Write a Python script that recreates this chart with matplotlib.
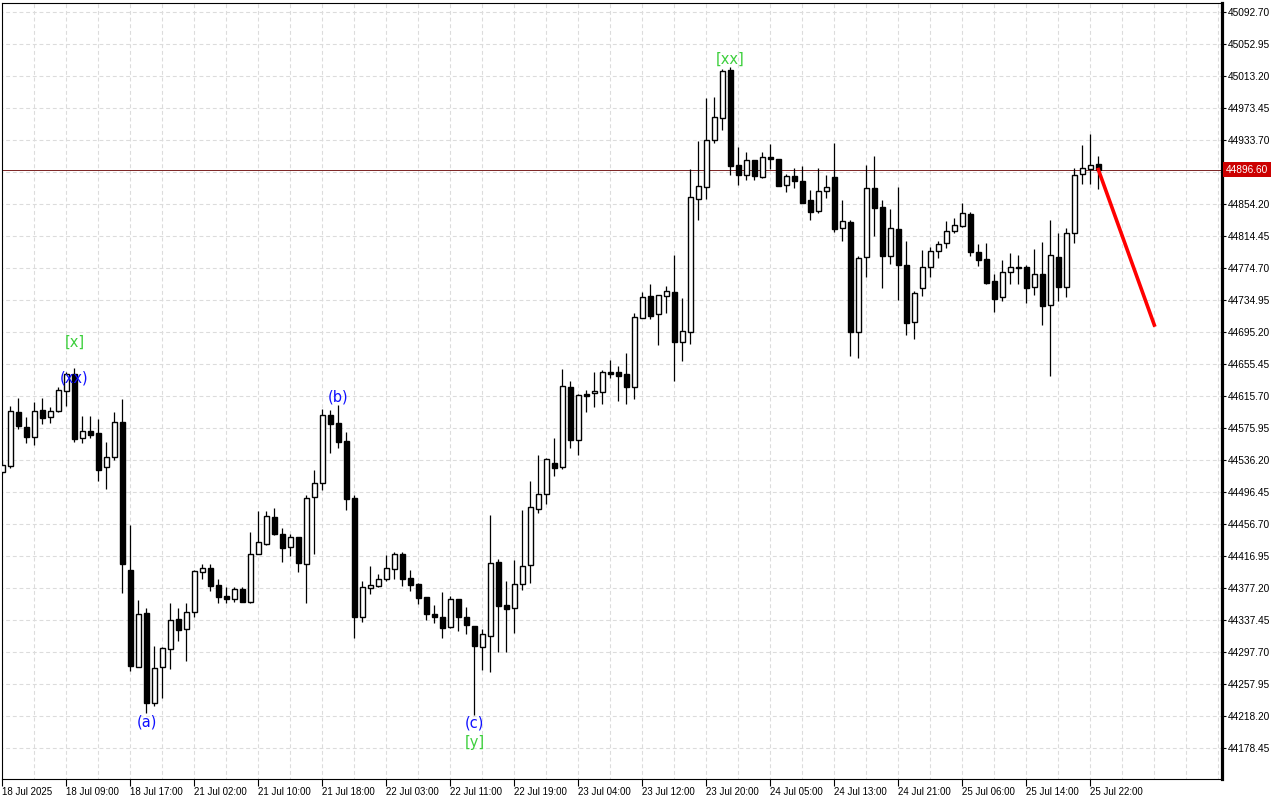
import numpy as np
import matplotlib
matplotlib.use('Agg')
import matplotlib.pyplot as plt
import matplotlib.transforms as mtransforms

plt.rcParams['font.family'] = ['Liberation Sans', 'DejaVu Sans']

# H1 candles, 18 Jul 2025 .. 25 Jul 2025
opens = [44520.9, 44528.7, 44595.1, 44576.4, 44564.8, 44597.9, 44588.9, 44596.3, 44621.2, 44642.3,
         44562.8, 44571.5, 44569.0, 44526.8, 44539.2, 44582.7, 44399.2, 44279.1, 44345.4, 44233.6,
         44278.3, 44300.7, 44337.9, 44325.5, 44346.6, 44396.3, 44401.3, 44380.2, 44366.9, 44362.8,
         44375.2, 44359.8, 44418.7, 44431.5, 44465.4, 44443.9, 44428.1, 44440.5, 44406.3, 44489.5,
         44506.9, 44591.7, 44581.8, 44559.4, 44488.6, 44340.4, 44376.4, 44379.9, 44387.6, 44400.1,
         44419.1, 44389.2, 44381.8, 44365.6, 44344.5, 44340.8, 44328.4, 44363.2, 44340.8, 44329.6,
         44303.9, 44317.6, 44409.1, 44355.7, 44351.4, 44381.4, 44405.0, 44475.3, 44493.2, 44531.7,
         44526.8, 44626.1, 44560.3, 44617.4, 44618.7, 44620.7, 44644.8, 44644.8, 44642.7, 44626.1,
         44711.8, 44739.5, 44716.8, 44739.2, 44744.5, 44682.8, 44695.2, 44860.4, 44874.6, 44933.0,
         44961.0, 45020.3, 44902.3, 44890.2, 44908.5, 44887.7, 44912.6, 44909.7, 44877.1, 44888.6,
         44882.0, 44858.4, 44845.1, 44869.4, 44887.4, 44823.6, 44831.1, 44694.5, 44787.6, 44873.3,
         44849.7, 44789.6, 44822.8, 44778.1, 44707.6, 44749.1, 44775.2, 44795.1, 44805.0, 44819.9,
         44826.9, 44841.4, 44794.2, 44785.5, 44758.2, 44737.9, 44769.0, 44775.6, 44775.6, 44751.1,
         44766.9, 44728.0, 44788.0, 44750.4, 44817.4, 44890.7, 44897.7, 44903.1]
highs = [44535.8, 44602.9, 44612.5, 44588.9, 44607.9, 44612.8, 44601.3, 44626.9, 44645.5, 44649.7,
         44590.5, 44590.5, 44586.8, 44558.2, 44595.4, 44611.6, 44455.1, 44361.9, 44352.0, 44304.8,
         44303.5, 44357.8, 44351.6, 44357.8, 44398.6, 44406.6, 44406.6, 44387.6, 44377.7, 44378.4,
         44378.1, 44446.4, 44472.5, 44472.5, 44475.8, 44451.0, 44443.5, 44440.5, 44492.3, 44523.4,
         44599.5, 44597.9, 44603.8, 44570.2, 44492.7, 44385.5, 44404.1, 44394.2, 44417.8, 44421.9,
         44421.9, 44399.2, 44383.0, 44365.6, 44355.7, 44371.9, 44367.3, 44363.2, 44353.2, 44329.6,
         44325.9, 44467.5, 44412.5, 44385.5, 44411.6, 44473.7, 44509.7, 44542.0, 44537.9, 44562.8,
         44648.9, 44633.6, 44617.4, 44622.8, 44645.1, 44647.6, 44660.0, 44652.6, 44668.7, 44718.8,
         44744.5, 44754.5, 44740.8, 44752.0, 44790.5, 44737.4, 44897.3, 44932.1, 44985.1, 44986.7,
         45021.5, 45023.6, 44925.0, 44918.0, 44908.5, 44918.0, 44928.4, 44909.7, 44890.7, 44898.2,
         44901.0, 44871.2, 44898.9, 44889.8, 44929.2, 44858.8, 44833.9, 44789.2, 44902.6, 44913.8,
         44858.8, 44847.6, 44874.9, 44807.9, 44745.8, 44796.7, 44800.0, 44807.9, 44832.7, 44836.1,
         44855.1, 44844.3, 44804.1, 44805.4, 44766.9, 44784.3, 44792.6, 44790.1, 44777.7, 44797.9,
         44806.6, 44833.9, 44817.4, 44824.0, 44898.2, 44927.1, 44940.8, 44913.5]
lows = [44518.4, 44526.3, 44574.0, 44557.3, 44554.8, 44580.9, 44582.2, 44595.4, 44603.3, 44558.6,
        44557.3, 44563.5, 44510.1, 44499.8, 44535.8, 44371.0, 44274.1, 44278.7, 44221.2, 44230.6,
        44240.6, 44275.8, 44311.4, 44286.5, 44341.2, 44387.6, 44373.5, 44358.6, 44357.8, 44359.8,
        44359.4, 44357.8, 44418.7, 44430.6, 44442.7, 44409.5, 44416.9, 44396.3, 44358.6, 44418.7,
        44498.5, 44544.9, 44551.1, 44473.7, 44314.3, 44335.0, 44370.0, 44377.7, 44385.9, 44388.4,
        44379.7, 44373.5, 44356.6, 44337.1, 44333.7, 44315.1, 44327.1, 44323.4, 44319.7, 44219.1,
        44275.0, 44272.5, 44297.7, 44297.7, 44321.3, 44374.3, 44382.7, 44470.4, 44481.5, 44516.3,
        44524.6, 44551.1, 44542.4, 44595.8, 44602.0, 44605.4, 44638.1, 44609.5, 44605.4, 44612.0,
        44711.8, 44711.3, 44679.0, 44718.1, 44634.0, 44658.8, 44680.3, 44833.9, 44860.0, 44929.6,
        44946.1, 44889.8, 44877.4, 44884.0, 44884.0, 44885.8, 44896.9, 44876.6, 44869.1, 44874.1,
        44855.1, 44833.6, 44843.0, 44860.7, 44818.7, 44808.2, 44665.4, 44662.9, 44763.5, 44814.4,
        44749.9, 44779.3, 44734.9, 44691.5, 44686.5, 44739.9, 44763.5, 44786.4, 44799.5, 44818.2,
        44825.6, 44789.2, 44776.8, 44754.8, 44720.0, 44733.3, 44754.8, 44754.8, 44731.2, 44741.2,
        44703.9, 44640.5, 44733.7, 44738.7, 44805.8, 44878.3, 44878.7, 44872.8]
closes = [44529.6, 44596.7, 44578.4, 44564.8, 44596.7, 44588.4, 44596.7, 44622.4, 44642.3, 44562.3,
          44571.5, 44567.3, 44523.8, 44539.5, 44582.7, 44407.0, 44280.3, 44344.2, 44233.6, 44277.1,
          44301.9, 44336.7, 44324.3, 44346.6, 44397.6, 44401.3, 44379.7, 44366.0, 44362.8, 44375.2,
          44359.8, 44419.1, 44433.6, 44466.3, 44443.5, 44426.9, 44439.8, 44407.5, 44488.6, 44506.9,
          44591.7, 44580.2, 44557.8, 44487.0, 44341.2, 44377.7, 44380.2, 44387.6, 44401.3, 44419.1,
          44388.4, 44380.9, 44364.8, 44344.2, 44341.2, 44327.5, 44362.8, 44341.2, 44330.9, 44305.1,
          44319.3, 44407.9, 44354.8, 44351.1, 44381.4, 44403.8, 44477.1, 44493.2, 44536.7, 44526.3,
          44627.4, 44561.0, 44616.2, 44615.7, 44621.2, 44644.8, 44643.0, 44640.5, 44626.9, 44713.1,
          44737.9, 44715.1, 44740.8, 44745.4, 44682.8, 44696.1, 44862.1, 44876.2, 44933.3, 44961.5,
          45018.7, 44901.4, 44890.2, 44908.5, 44888.2, 44911.8, 44910.1, 44876.6, 44888.6, 44882.8,
          44855.1, 44844.3, 44869.6, 44874.6, 44822.4, 44832.7, 44695.2, 44786.4, 44873.3, 44849.2,
          44789.6, 44823.6, 44778.4, 44706.4, 44742.9, 44775.6, 44795.1, 44803.8, 44819.9, 44827.4,
          44842.3, 44794.6, 44784.6, 44756.1, 44736.2, 44769.0, 44775.2, 44774.7, 44749.9, 44766.5,
          44727.5, 44790.5, 44751.1, 44817.4, 44889.8, 44898.2, 44901.9, 44896.6]

time_labels = ['18 Jul 2025', '18 Jul 09:00', '18 Jul 17:00', '21 Jul 02:00', '21 Jul 10:00',
               '21 Jul 18:00', '22 Jul 03:00', '22 Jul 11:00', '22 Jul 19:00', '23 Jul 04:00',
               '23 Jul 12:00', '23 Jul 20:00', '24 Jul 05:00', '24 Jul 13:00', '24 Jul 21:00',
               '25 Jul 06:00', '25 Jul 14:00', '25 Jul 22:00']
price_ticks = np.round(44178.45 + 39.75 * np.arange(24), 2)
bid_price = 44896.60

# forecast arrow (bar index, price)
forecast_bars = [137, 144]
forecast_prices = [44896.6, 44703.5]

GREEN = '#3ccf3c'
BLUE = '#1010ff'
wave_labels = [
    ('[x]', 9, 44681.8, GREEN),
    ('(xx)', 9, 44638.3, BLUE),
    ('(a)', 18, 44210.4, BLUE),
    ('(b)', 42, 44613.5, BLUE),
    ('(c)', 59, 44209.1, BLUE),
    ('[y]', 59, 44184.3, GREEN),
    ('[xx]', 91, 45033.0, GREEN),
]

fig = plt.figure(figsize=(12.8, 8), dpi=100)
ax = fig.add_axes([1.7 / 1280, 20.7 / 800, 1219.8 / 1280, 776.6 / 800])

x = np.arange(len(opens))
o = np.array(opens)
c = np.array(closes)
up = c >= o

# grid
grid_kw = dict(color='#dcdcdc', lw=0.8, linestyles=(0, (3.5, 2.5)), zorder=0)
ax.vlines(np.arange(0, 153, 4), 44000, 45200, **grid_kw)
ax.hlines(price_ticks, -5, 160, **grid_kw)

ax.axhline(bid_price, color='#7a2222', lw=0.7, zorder=1)

# candles
ax.vlines(x, lows, highs, color='black', lw=0.9, zorder=2)
bottom = np.minimum(o, c)
height = np.abs(c - o)
ax.bar(x[up], height[up], bottom=bottom[up], width=0.6, facecolor='white',
       edgecolor='black', linewidth=1.0, zorder=3)
ax.bar(x[~up], height[~up], bottom=bottom[~up], width=0.6, facecolor='black',
       edgecolor='black', linewidth=1.0, zorder=3)

ax.plot(forecast_bars, forecast_prices, color='#ff0000', lw=2.6, zorder=4)

for txt, bx, py, col in wave_labels:
    ax.text(bx, py, txt, color=col, ha='center', va='center', fontsize=10.5,
            family='DejaVu Sans', zorder=5)

ax.set_xlim(-0.1, 152.4)
ax.set_ylim(44139.2, 45103.9)

ax.set_xticks(np.arange(0, 8 * len(time_labels), 8))
ax.set_xticklabels(time_labels, ha='left', fontsize=7)
ax.tick_params(axis='x', length=5, width=0.8, pad=0.5, direction='out')

ax.yaxis.tick_right()
ax.set_yticks(price_ticks)
ax.set_yticklabels(['' if abs(p - bid_price) < 5 else f'{p:.2f}' for p in price_ticks], fontsize=7.3)
ax.tick_params(axis='y', length=3, width=0.8, pad=1.5, direction='out')

for side in ['left', 'top', 'bottom']:
    ax.spines[side].set_linewidth(0.8)
ax.spines['right'].set_linewidth(2.3)

trans = mtransforms.blended_transform_factory(ax.transAxes, ax.transData)
ax.text(1.0035, bid_price, f'{bid_price:.2f}', transform=trans, ha='left', va='center',
        color='white', fontsize=7.3, bbox=dict(boxstyle='square,pad=0.25', fc='#cc0000', ec='none'),
        clip_on=False, zorder=6)

fig.savefig('out.png', dpi=100)
